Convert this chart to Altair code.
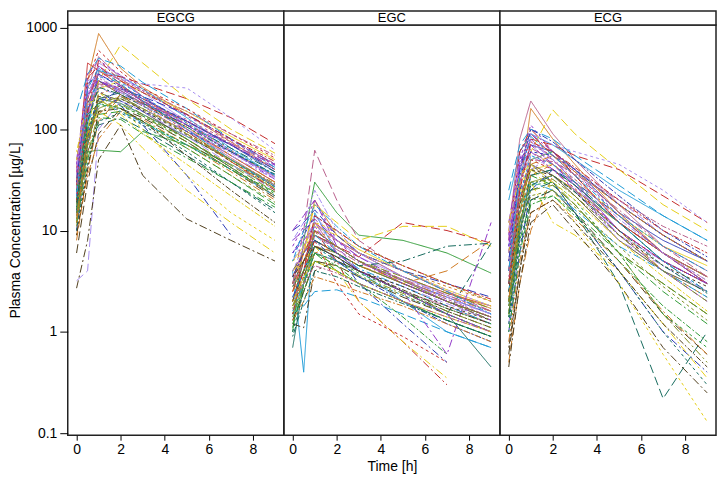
import altair as alt
import pandas as pd

TIMES = [0, 0.5, 1, 2, 3, 5, 7, 9]
COMPOUNDS = ["EGCG", "EGC", "ECG"]
Y_TICKS = [0.1, 1, 10, 100, 1000]
X_TICKS = [0, 2, 4, 6, 8]

EGCG = [
    [20, 120, 300, 240, 180, 120, 70, 38],
    [35, 450, 380, 270, 190, 100, 55, 30],
    [15, 60, 62, 60, 95, 70, 45, 26],
    [30, 200, 420, 300, 210, 110, 60, 34],
    [25, 300, 880, 400, 260, 140, 75, 40],
    [40, 150, 250, 300, 230, 150, 85, 50],
    [18, 100, 380, 330, 250, 130, 65, 35],
    [12, 80, 200, 180, 140, 85, 50, 28],
    [22, 180, 300, 220, 150, 80, 42, 22],
    [28, 130, 450, 340, 230, 120, 62, 33],
    [45, 250, 520, 320, 210, 100, 52, 28],
    [16, 90, 160, 200, 160, 95, 50, 27],
    [10, 70, 180, 250, 210, 140, 80, 45],
    [30, 200, 350, 330, 280, 200, 130, 72],
    [20, 110, 140, 150, 120, 65, 35, 18],
    [50, 260, 300, 230, 175, 110, 70, 42],
    [8, 40, 120, 210, 180, 105, 55, 30],
    [25, 100, 300, 680, 450, 200, 100, 58],
    [150, 350, 500, 420, 290, 160, 80, 42],
    [14, 60, 110, 130, 100, 55, 30, 16],
    [6, 30, 90, 160, 130, 75, 40, 21],
    [3.2, 4.0, 100, 190, 150, 85, 45, 25],
    [35, 150, 280, 260, 190, 120, 70, 40],
    [18, 80, 230, 190, 140, 80, 44, 24],
    [25, 160, 240, 170, 110, 35, 9, None],
    [40, 320, 420, 280, 185, 95, 48, 25],
    [12, 50, 130, 125, 90, 52, 30, 17],
    [22, 140, 350, 270, 200, 120, 72, 44],
    [9, 35, 80, 150, 125, 70, 38, 20],
    [30, 90, 150, 110, 65, 25, 12, 6],
    [20, 120, 180, 150, 115, 70, 40, 22],
    [16, 70, 200, 230, 180, 110, 65, 38],
    [2.7, 8, 50, 110, 35, 13, 8, 5],
    [26, 180, 260, 210, 160, 95, 55, 32],
    [33, 240, 320, 240, 180, 120, 72, 45],
    [11, 55, 150, 175, 135, 75, 40, 22],
    [15, 85, 200, 190, 150, 95, 60, 35],
    [28, 300, 600, 370, 250, 160, 90, 52],
    [20, 100, 170, 170, 135, 80, 42, 23],
    [45, 350, 480, 340, 240, 135, 78, 45],
    [14, 60, 220, 270, 200, 115, 62, 34],
    [50, 200, 230, 160, 100, 35, 15, 8],
    [24, 160, 330, 290, 210, 115, 62, 35],
    [10, 45, 120, 145, 110, 60, 30, 15],
    [19, 95, 210, 200, 155, 88, 48, 27],
    [35, 220, 400, 310, 280, 255, 130, 62],
    [30, 130, 270, 250, 190, 125, 75, 46],
    [13, 70, 190, 160, 115, 65, 35, 19],
    [30, 280, 350, 260, 200, 120, 70, 40],
    [20, 150, 480, 300, 230, 140, 80, 48],
    [25, 140, 180, 160, 120, 70, 40, 24],
    [38, 220, 300, 250, 190, 110, 60, 32],
    [12, 90, 140, 220, 170, 90, 48, 26],
    [60, 180, 200, 140, 90, 45, 22, 11],
    [22, 250, 400, 280, 190, 100, 50, 27],
    [17, 120, 260, 220, 170, 105, 60, 36],
    [9, 40, 150, 160, 120, 55, 25, 12],
    [40, 300, 340, 230, 170, 100, 58, 34],
    [26, 200, 370, 310, 240, 150, 90, 55],
    [15, 75, 180, 210, 160, 90, 50, 29],
]

EGC = [
    [3, 5, 9, 7, 5, 3.2, 2.2, 1.5],
    [2, 4, 12, 8, 6, 3.5, 2.4, 1.8],
    [1, 8, 30, 15, 9, 8, 6, 3.8],
    [4, 6, 10, 7, 5, 3, 2, 1.4],
    [2.5, 6, 20, 9, 6, 4, 2.5, 1.7],
    [5, 7, 11, 9, 6.5, 4, 2.6, 1.8],
    [4, 0.4, 15, 6, 4, 2, 1, 0.7],
    [0.7, 3, 6, 5, 4, 2.5, 1.5, 0.45],
    [2, 5, 8, 6, 4.5, 3, 2, 1.4],
    [6, 9, 14, 8, 5.5, 3.5, 2.3, 1.6],
    [3, 7, 12, 6, 4, 2.5, 1.8, 1.2],
    [1.5, 3, 7, 6, 4.5, 3, 2, 1.4],
    [10, 12, 16, 9, 6, 4, 3, 2.2],
    [2.5, 5, 9, 7, 5.5, 12, 10, 7.5],
    [1.2, 2.5, 5, 4, 3, 2, 1.3, 0.9],
    [8, 10, 13, 8, 5.5, 3.2, 2, 1.3],
    [1.8, 3, 6, 7, 5, 3, 4, 8],
    [3, 6, 18, 12, 8, 11, 11, 7],
    [1.5, 1.8, 2.5, 2.6, 2.2, 1.5, 1, 0.7],
    [2, 4, 7, 5.5, 4, 2.5, 1.5, 7.5],
    [1.3, 2.5, 5, 4.5, 3.5, 2.2, 1.5, 1],
    [2, 3, 6, 5, 4, 2.8, 1.9, 1.3],
    [3, 10, 62, 20, 8, 4, 2.5, 1.6],
    [4, 6, 9, 7, 5, 3.5, 2.4, 1.7],
    [2.2, 4, 8, 6, 3, 1.2, 0.5, None],
    [3.5, 6, 10, 5, 2, 0.8, 0.3, None],
    [1.1, 3, 6, 4, 3, 2, 1.3, 0.9],
    [10, 14, 20, 7, 4, 2.5, 0.6, 12],
    [2.5, 4, 8, 6, 4.5, 3.2, 2.2, 1.6],
    [4, 5, 7, 4, 2, 0.8, 0.35, None],
    [1.6, 3, 9, 6, 4.2, 2.8, 1.8, 1.2],
    [3, 5, 8, 6, 4.5, 5, 7, 7.5],
    [1.2, 1.1, 4, 5, 4, 2.5, 1.6, 1.1],
    [5, 8, 12, 7, 5, 3.2, 2.1, 1.5],
    [2.8, 5, 9, 6.5, 4.8, 3.3, 2.3, 1.6],
    [1.8, 3.5, 7, 5, 3.6, 2.4, 1.6, 1.1],
    [6, 9, 14, 10, 7, 4.5, 3, 2],
    [2, 4, 8, 3, 1.5, 0.9, 0.5, None],
    [1.4, 2.8, 6, 5, 3.8, 2.5, 1.7, 1.2],
    [7, 11, 20, 8, 5, 3, 2, 1.3],
    [3, 5, 10, 8, 6, 4, 2.8, 2],
    [5, 6, 12, 10, 7, 4.5, 3, 2],
    [2.2, 4, 7, 5, 3.5, 2.3, 1.5, 1],
    [1, 2.5, 5, 4, 3, 2, 1.3, 0.9],
    [2, 3.5, 7, 5.5, 4, 2.8, 1.8, 1.3],
    [4, 7, 11, 8, 6, 4, 2.6, 1.8],
    [3, 6, 10, 7, 5, 3.3, 2.1, 1.4],
    [1.5, 2.5, 5, 4.5, 3.5, 2.3, 1.5, 1],
    [3.5, 6, 8, 5, 3.5, 2, 1.2, 0.8],
    [1.5, 4, 14, 10, 7, 4.5, 3, 2.1],
    [2.8, 4, 6, 4.5, 3, 1.4, 0.6, None],
    [6, 8, 11, 6, 4, 2.5, 1.5, 1],
    [1.3, 2, 3.5, 3, 2.5, 1.8, 1.2, 0.8],
    [2, 3.5, 5, 4, 3, 2, 1.4, 1],
    [5, 10, 18, 11, 7, 4, 2.5, 1.5],
    [0.9, 2, 4, 3.5, 2.8, 1.9, 1.3, 0.9],
    [3.5, 5, 7, 5.5, 4, 2.6, 1.7, 1.2],
    [8, 12, 25, 10, 6, 3.5, 2.2, 1.5],
    [2.2, 3, 4.5, 3.8, 3, 2, 1.4, 1],
    [1.7, 3.2, 10, 7, 5, 3.2, 2, 1.3],
]

ECG = [
    [4, 30, 70, 60, 40, 15, 8, 5],
    [8, 60, 90, 55, 35, 12, 6, 3.5],
    [2, 15, 50, 60, 40, 18, 9, 5],
    [6, 40, 80, 50, 30, 10, 5, 3],
    [3, 25, 160, 80, 45, 15, 6, 3.5],
    [5, 20, 40, 45, 30, 14, 7, 4.5],
    [20, 60, 90, 70, 50, 25, 14, 8],
    [1.5, 10, 35, 40, 28, 12, 5, 3],
    [3, 20, 45, 35, 22, 8, 4, 2.5],
    [7, 35, 70, 45, 28, 9, 5, 3],
    [10, 80, 190, 90, 50, 18, 7, 4],
    [2, 12, 30, 35, 25, 12, 6, 3.5],
    [1, 6, 25, 40, 30, 14, 6, 3],
    [6, 40, 80, 70, 55, 40, 22, 12],
    [2.5, 15, 35, 28, 18, 6, 3, 1.5],
    [12, 50, 70, 45, 28, 10, 5, 3],
    [0.5, 3, 10, 35, 25, 10, 4, 2.2],
    [4, 20, 60, 155, 90, 40, 18, 10],
    [25, 70, 100, 80, 55, 28, 14, 8],
    [1.8, 10, 25, 30, 15, 3, 0.22, 1.0],
    [0.6, 4, 20, 25, 15, 5, 1.5, 0.6],
    [1.2, 8, 40, 55, 40, 20, 9, 5],
    [5, 30, 60, 45, 30, 12, 6, 3.5],
    [3, 18, 40, 30, 18, 6, 3, 1.5],
    [4, 25, 45, 30, 15, 4, 1, 0.4],
    [9, 60, 100, 60, 35, 12, 6, 3],
    [1.4, 8, 20, 22, 15, 6, 2.5, 1.2],
    [8, 45, 90, 60, 40, 18, 9, 5],
    [0.8, 5, 15, 20, 13, 5, 1.6, 0.6],
    [6, 25, 30, 12, 9, 4, 1.2, 0.35],
    [2.5, 15, 30, 25, 16, 7, 4, 2.2],
    [2, 12, 35, 40, 28, 12, 5, 2.5],
    [0.45, 3, 12, 18, 10, 3, 0.7, 0.25],
    [5, 30, 55, 40, 25, 8, 4.5, 2.5],
    [4, 28, 65, 50, 35, 16, 7, 3.5],
    [1.5, 10, 25, 28, 18, 6, 1.5, 0.5],
    [7, 35, 60, 55, 40, 18, 9, 5],
    [3, 20, 50, 40, 26, 10, 5, 3],
    [2, 12, 28, 30, 20, 6, 1.5, 0.7],
    [9, 50, 110, 60, 38, 14, 6, 3],
    [2, 14, 35, 45, 32, 14, 6, 3.2],
    [10, 30, 40, 25, 12, 3, 0.6, 0.13],
    [3, 22, 55, 45, 30, 12, 5, 2.5],
    [1.2, 7, 20, 25, 15, 4, 1, 0.3],
    [2.5, 18, 40, 35, 24, 9, 4.5, 2.8],
    [6, 40, 90, 70, 60, 45, 25, 12],
    [4, 30, 70, 55, 38, 15, 6, 3],
    [1.6, 10, 22, 25, 17, 7, 2.8, 1.3],
    [5, 40, 100, 75, 50, 22, 10, 5.5],
    [3, 25, 75, 60, 42, 20, 10, 6],
    [1, 6, 18, 22, 14, 5, 1.8, 0.8],
    [7, 45, 60, 40, 25, 9, 4, 2],
    [2.2, 15, 45, 55, 38, 18, 9, 5],
    [12, 35, 45, 30, 20, 8, 3.5, 1.6],
    [4, 35, 85, 55, 35, 14, 7, 4],
    [1.4, 9, 28, 35, 24, 10, 4.5, 2.4],
    [0.7, 4, 15, 20, 12, 4, 1.2, 0.45],
    [9, 55, 75, 50, 32, 13, 6, 3.2],
    [3.5, 20, 50, 48, 36, 20, 11, 7],
    [1.8, 12, 30, 32, 22, 9, 4, 2],
]

PALETTE = ["#2b3bb5", "#c42b2b", "#2f9a35", "#9238c9", "#d07a22", "#e6cf1a",
           "#1e9bd7", "#166b5e", "#4f3d1c", "#a78df0", "#b8618c", "#7f8f22"]
DASHES = [[1, 0], [9, 4], [8, 3, 2, 3], [3, 3], [2, 2, 6, 2]]

rows = []
for comp, table in zip(COMPOUNDS, [EGCG, EGC, ECG]):
    for sid, prof in enumerate(table):
        for t, v in zip(TIMES, prof):
            if v is not None:
                rows.append(dict(compound=comp, subject=sid, cgrp=sid % 12,
                                 dgrp=sid // 12, time=t, value=v))
df = pd.DataFrame(rows)

W = 217
H = 412
STRIP = 14
FONT = "Liberation Sans"
YDOM = [0.0956, 1070]


def panel(comp, idx):
    d = df[df.compound == comp]
    xkw = dict(values=X_TICKS, tickSize=5, labelPadding=2, domain=False, grid=False,
               labelFontSize=14, titleFontSize=14, titleFontWeight="normal",
               titlePadding=3, labelColor="black", tickColor="black",
               titleColor="black", labelFont=FONT, titleFont=FONT, title=None)
    if idx == 1:
        xkw["title"] = "Time [h]"
    xaxis = alt.Axis(**xkw)
    if idx == 0:
        yaxis = alt.Axis(values=Y_TICKS, format="~g", title="Plasma Concentration [µg/L]",
                         tickSize=8, labelPadding=3, titlePadding=3, domain=False, grid=False,
                         labelFontSize=14, titleFontSize=14, titleFontWeight="normal",
                         labelColor="black", tickColor="black", titleColor="black",
                         labelFont=FONT, titleFont=FONT)
        y = alt.Y("value:Q", scale=alt.Scale(type="log", domain=YDOM, nice=False), axis=yaxis)
    else:
        y = alt.Y("value:Q", scale=alt.Scale(type="log", domain=YDOM, nice=False), axis=None)
    lines = alt.Chart(d).mark_line(strokeWidth=1).encode(
        x=alt.X("time:Q", scale=alt.Scale(domain=[-0.4, 9.4], nice=False, zero=False),
                axis=xaxis),
        y=y,
        color=alt.Color("cgrp:N", scale=alt.Scale(domain=list(range(12)), range=PALETTE),
                        legend=None),
        strokeDash=alt.StrokeDash("dgrp:N", scale=alt.Scale(domain=list(range(5)), range=DASHES),
                                  legend=None),
        detail="subject:N",
        order="time:Q",
    )
    sd = pd.DataFrame({"label": [comp]})
    rect = alt.Chart(sd).mark_rect(fill="white", stroke="#222", strokeWidth=1.5).encode(
        x=alt.value(0), x2=alt.value(W), y=alt.value(-STRIP), y2=alt.value(0))
    text = alt.Chart(sd).mark_text(fontSize=13, font=FONT, color="black",
                                   baseline="middle", align="center").encode(
        text="label:N", x=alt.value(W / 2), y=alt.value(-STRIP / 2))
    return alt.layer(lines, rect, text).properties(width=W, height=H)


chart = alt.hconcat(*[panel(c, i) for i, c in enumerate(COMPOUNDS)], spacing=0,
                    bounds="flush").properties(
    padding=0
).configure(font=FONT).configure_view(stroke="#222", strokeWidth=1.5)

chart.save("out.html", embed_options={"renderer": "svg", "actions": False})
